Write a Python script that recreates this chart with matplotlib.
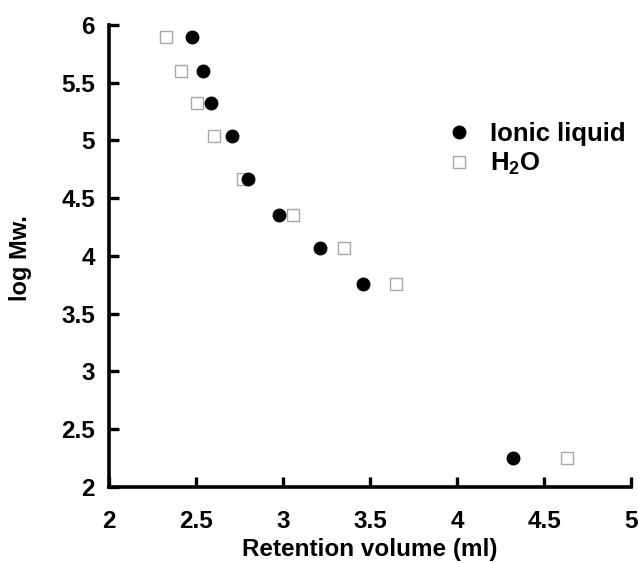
import matplotlib
matplotlib.use("Agg")
import matplotlib.pyplot as plt

plt.rcParams['font.family'] = ['Liberation Sans', 'DejaVu Sans']
plt.rcParams['font.weight'] = 'bold'
plt.rcParams['mathtext.fontset'] = 'custom'
plt.rcParams['mathtext.bf'] = 'Liberation Sans:bold'
plt.rcParams['mathtext.rm'] = 'Liberation Sans:bold'

log_mw = [5.90, 5.60, 5.32, 5.04, 4.67, 4.35, 4.07, 3.76, 2.25]
ionic_liquid = [2.478, 2.543, 2.586, 2.707, 2.799, 2.978, 3.21, 3.459, 4.319]
water = [2.329, 2.415, 2.505, 2.603, 2.770, 3.056, 3.35, 3.647, 4.633]
xticks = [2, 2.5, 3, 3.5, 4, 4.5, 5]
yticks = [2, 2.5, 3, 3.5, 4, 4.5, 5, 5.5, 6]

fig = plt.figure(figsize=(6.39, 5.63), dpi=100)
ax = fig.add_axes([0.1706, 0.1355, 0.8169, 0.8201])

ax.plot(water, log_mw, linestyle='none', marker='s', markersize=8.6,
        markerfacecolor='white', markeredgecolor='#a8a8a8', markeredgewidth=1.0,
        label=r'$\mathbf{H_2O}$', zorder=2)
ax.plot(ionic_liquid, log_mw, linestyle='none', marker='o', markersize=9,
        color='black', label='Ionic liquid', zorder=3)

ax.set_xlim(2, 5)
ax.set_ylim(2, 6)
ax.set_xticks(xticks)
ax.set_yticks(yticks)
ax.set_xticklabels([f'{t:g}' for t in xticks])
ax.set_yticklabels([f'{t:g}' for t in yticks])
ax.tick_params(direction='in', length=7.5, width=2.4, labelsize=17.5)
ax.tick_params(axis='x', pad=17)
ax.tick_params(axis='y', pad=10)

for s in ['top', 'right']:
    ax.spines[s].set_visible(False)
for s in ['left', 'bottom']:
    ax.spines[s].set_linewidth(2.6)

ax.set_xlabel('Retention volume (ml)', fontsize=17.5, fontweight='bold')
ax.set_ylabel('log Mw.', fontsize=17, fontweight='bold')
ax.xaxis.set_label_coords(0.5, -0.112)
ax.yaxis.set_label_coords(-0.148, 0.496)

handles, labels = ax.get_legend_handles_labels()
leg = ax.legend(handles[::-1], labels[::-1], loc='center left',
                bbox_to_anchor=(0.622, 0.731), frameon=False, fontsize=18.5,
                handletextpad=0.6, labelspacing=0.2, handlelength=1.2,
                borderpad=0.4, borderaxespad=0)

fig.savefig('out.png', dpi=100)
